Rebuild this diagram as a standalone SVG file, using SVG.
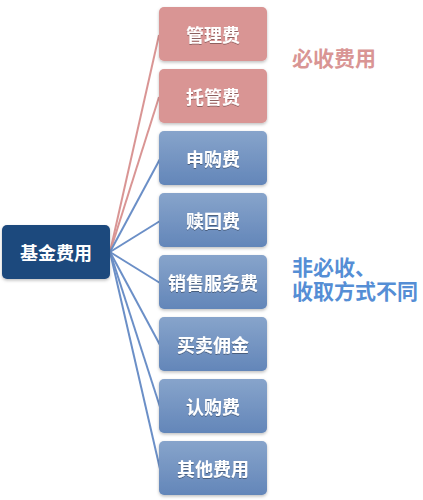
<svg xmlns="http://www.w3.org/2000/svg" width="423" height="500" viewBox="0 0 423 500">
<defs>
<linearGradient id="gb" x1="0" y1="0" x2="0" y2="1">
<stop offset="0" stop-color="#87a4cb"/>
<stop offset="1" stop-color="#6386b9"/>
</linearGradient>
<filter id="sh" x="-10%" y="-10%" width="130%" height="140%">
<feDropShadow dx="0" dy="1.5" stdDeviation="1.5" flood-color="#000" flood-opacity="0.25"/>
</filter>
<filter id="ts" x="-10%" y="-20%" width="120%" height="150%">
<feDropShadow dx="0" dy="1" stdDeviation="0.6" flood-color="#000" flood-opacity="0.35"/>
</filter>
</defs>
<style>
.red{fill:#d99594}
.blue{fill:url(#gb)}
.bt{font-family:"Noto Sans CJK SC",sans-serif;font-weight:bold;font-size:18px;fill:#fff;text-anchor:middle;dominant-baseline:central}
.lr{stroke:#d99594;stroke-width:2;fill:none}
.lb{stroke:#6b8fc7;stroke-width:2;fill:none}
.lab{font-family:"Noto Sans CJK SC",sans-serif;font-weight:bold;font-size:21px}
</style>
<rect width="423" height="500" fill="#fff"/>
<g id="connectors">
<line class="lr" x1="110" y1="252" x2="159" y2="35"/>
<line class="lr" x1="110" y1="252" x2="159" y2="97"/>
<line class="lb" x1="110" y1="252" x2="160" y2="159"/>
<line class="lb" x1="110" y1="252" x2="160" y2="221"/>
<line class="lb" x1="110" y1="252" x2="160" y2="283"/>
<line class="lb" x1="110" y1="252" x2="160" y2="345"/>
<line class="lb" x1="110" y1="252" x2="160" y2="407"/>
<line class="lb" x1="110" y1="252" x2="160" y2="469"/>
</g>
<g id="root">
<rect x="2" y="225" width="108" height="54" rx="5" fill="#1f497d" filter="url(#sh)"/>
<text class="bt" x="56" y="252">基金费用</text>
</g>
<g id="n1"><rect class="red" x="159" y="7" width="108" height="54" rx="5" filter="url(#sh)"/><text class="bt" x="213" y="34" filter="url(#ts)">管理费</text></g>
<g id="n2"><rect class="red" x="159" y="69" width="108" height="54" rx="5" filter="url(#sh)"/><text class="bt" x="213" y="96" filter="url(#ts)">托管费</text></g>
<g id="n3"><rect class="blue" x="159" y="131" width="108" height="54" rx="5" filter="url(#sh)"/><text class="bt" x="213" y="158" filter="url(#ts)">申购费</text></g>
<g id="n4"><rect class="blue" x="159" y="193" width="108" height="54" rx="5" filter="url(#sh)"/><text class="bt" x="213" y="220" filter="url(#ts)">赎回费</text></g>
<g id="n5"><rect class="blue" x="159" y="255" width="108" height="54" rx="5" filter="url(#sh)"/><text class="bt" x="213" y="282" filter="url(#ts)">销售服务费</text></g>
<g id="n6"><rect class="blue" x="159" y="317" width="108" height="54" rx="5" filter="url(#sh)"/><text class="bt" x="213" y="344" filter="url(#ts)">买卖佣金</text></g>
<g id="n7"><rect class="blue" x="159" y="379" width="108" height="54" rx="5" filter="url(#sh)"/><text class="bt" x="213" y="406" filter="url(#ts)">认购费</text></g>
<g id="n8"><rect class="blue" x="159" y="441" width="108" height="54" rx="5" filter="url(#sh)"/><text class="bt" x="213" y="468" filter="url(#ts)">其他费用</text></g>
<g id="labels">
<text class="lab" x="292" y="66" fill="#d99594">必收费用</text>
<text class="lab" fill="#558ed5"><tspan x="292" y="275">非必收、</tspan><tspan x="292" y="299">收取方式不同</tspan></text>
</g>
</svg>
